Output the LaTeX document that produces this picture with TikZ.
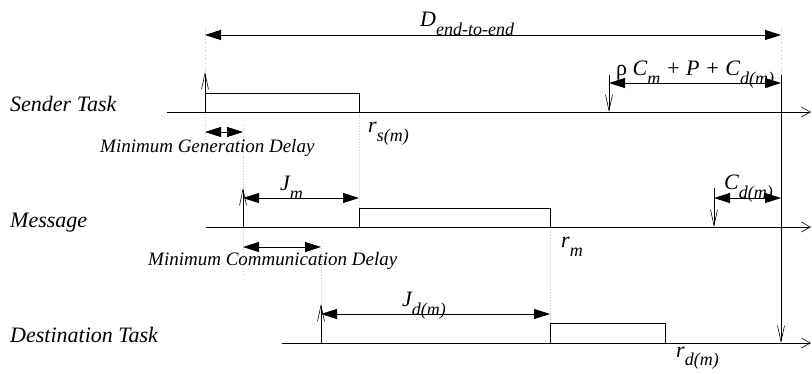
\documentclass[tikz,border=0pt]{standalone}
\usepackage{fontspec}
\setmainfont{Liberation Serif}
\usetikzlibrary{arrows.meta}
\newcommand{\lsub}[2][9pt]{\raisebox{-#1}{\fontsize{18}{18}\selectfont #2}}
\begin{document}
\begin{tikzpicture}[x=1pt,y=-1pt,
  axis/.style={line width=0.8pt,-{Straight Barb[length=9pt,width=10pt,line width=0.6pt]}},
  release/.style={line width=0.8pt,-{Straight Barb[length=16pt,width=7pt,line width=0.6pt]}},
  dim/.style={line width=0.8pt,{Triangle[length=16pt,width=10pt]}-{Triangle[length=16pt,width=10pt]}},
  guide/.style={gray!45,dotted,line width=0.7pt},
  job/.style={draw,line width=0.8pt},
  rowlabel/.style={anchor=base west,inner sep=0pt,font=\fontsize{22}{22}\selectfont\itshape},
  small/.style={anchor=base west,inner sep=0pt,font=\fontsize{19}{19}\selectfont\itshape},
  math/.style={anchor=base west,inner sep=0pt,font=\fontsize{22}{22}\selectfont\itshape}]
\useasboundingbox (0,0) rectangle (812,373);

% row labels
\node[rowlabel] (lsender) at (10,111) {Sender Task};
\node[rowlabel] (lmsg) at (10,227) {Message};
\node[rowlabel] (ldest) at (10,342) {Destination Task};

% timeline coordinates
\coordinate (s0) at (167,112); \coordinate (s1) at (811,112);
\coordinate (m0) at (206,227); \coordinate (m1) at (811,227);
\coordinate (d0) at (282,343); \coordinate (d1) at (811,343);

% guides
\coordinate (g1a) at (205,28);  \coordinate (g1b) at (205,140);
\coordinate (g2a) at (243,125); \coordinate (g2b) at (243,275);
\coordinate (g3a) at (359,112); \coordinate (g3b) at (359,208);
\coordinate (g4a) at (321,240); \coordinate (g4b) at (321,330);
\coordinate (g5a) at (550,227); \coordinate (g5b) at (550,323);
\coordinate (g6a) at (781,28);  \coordinate (g6b) at (781,75);
\draw[guide] (g1a) -- (g1b);
\draw[guide] (g2a) -- (g2b);
\draw[guide] (g3a) -- (g3b);
\draw[guide] (g4a) -- (g4b);
\draw[guide] (g5a) -- (g5b);
\draw[guide] (g6a) -- (g6b);

% jobs
\draw[job] (205,112) |- (359,93) -- (359,112);
\draw[job] (359,227) |- (550,208) -- (550,227);
\draw[job] (550,343) |- (665,323) -- (665,343);

% timelines
\draw[axis] (s0) -- (s1);
\draw[axis] (m0) -- (m1);
\draw[axis] (d0) -- (d1);

% releases
\coordinate (rs0) at (205,112); \coordinate (rs1) at (205,72);
\coordinate (rm0) at (243,227); \coordinate (rm1) at (243,188);
\coordinate (rd0) at (321,343); \coordinate (rd1) at (321,304);
\draw[release] (rs0) -- (rs1);
\draw[release] (rm0) -- (rm1);
\draw[release] (rd0) -- (rd1);

% deadlines
\coordinate (dl0) at (609,75);  \coordinate (dl1) at (609,112);
\coordinate (dm0) at (714,188); \coordinate (dm1) at (714,227);
\coordinate (dd0) at (781,75);  \coordinate (dd1) at (781,343);
\draw[release] (dl0) -- (dl1);
\draw[release] (dm0) -- (dm1);
\draw[release] (dd0) -- (dd1);

% dimension arrows
\coordinate (De0) at (205,35); \coordinate (De1) at (781,35);
\draw[dim] (De0) -- (De1);
\coordinate (Ra0) at (609,83); \coordinate (Ra1) at (781,83);
\draw[dim] (Ra0) -- (Ra1);
\coordinate (Mg0) at (205,132); \coordinate (Mg1) at (243,132);
\draw[dim] (Mg0) -- (Mg1);
\coordinate (Jm0) at (243,198); \coordinate (Jm1) at (359,198);
\draw[dim] (Jm0) -- (Jm1);
\coordinate (Mc0) at (243,247); \coordinate (Mc1) at (321,247);
\draw[dim] (Mc0) -- (Mc1);
\coordinate (Cd0) at (714,198); \coordinate (Cd1) at (781,198);
\draw[dim] (Cd0) -- (Cd1);
\coordinate (Jd0) at (321,314); \coordinate (Jd1) at (550,314);
\draw[dim] (Jd0) -- (Jd1);

% labels
\node[math] (tD) at (420,26) {D\lsub{end-to-end}};
\node[math] (tR) at (616,75) {\upshape ρ \itshape C\lsub{m} + P + C\lsub{d(m)}};
\node[math] (tCd) at (724,189) {C\lsub{d(m)}};
\node[math] (tJm) at (280,190) {J\lsub{m}};
\node[math] (tJd) at (402,306) {J\lsub{d(m)}};
\node[math] (trs) at (368,132) {r\lsub{s(m)}};
\node[math] (trm) at (561,247) {r\lsub{m}};
\node[math] (trd) at (676,357) {r\lsub[8pt]{d(m)}};
\node[small] (tMg) at (100,152) {Minimum Generation Delay};
\node[small] (tMc) at (148,265) {Minimum Communication Delay};
\end{tikzpicture}
\end{document}
